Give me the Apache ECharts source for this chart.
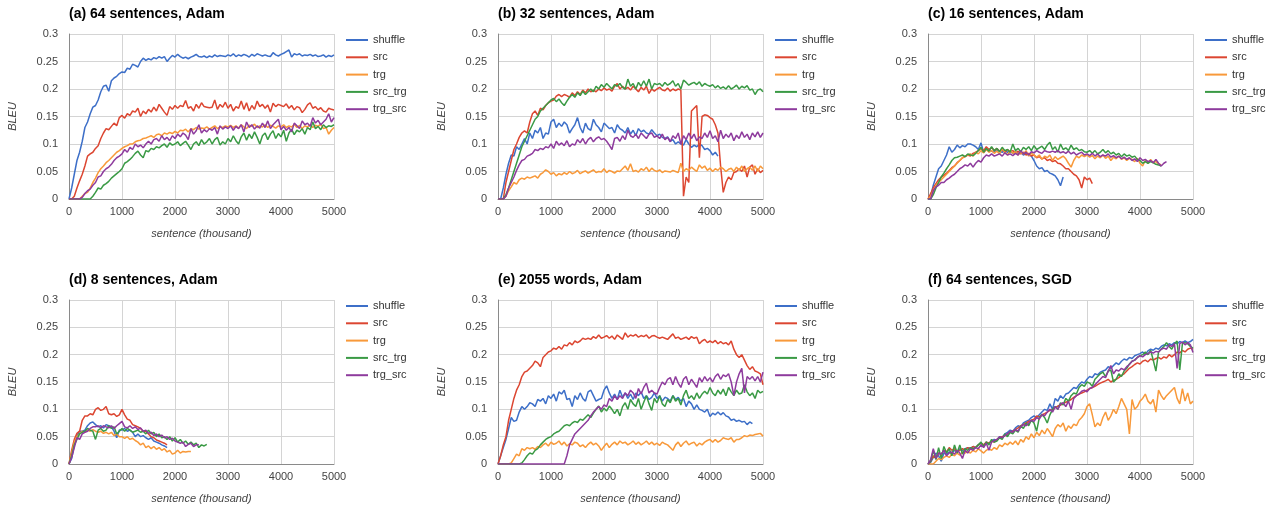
<!DOCTYPE html>
<html>
<head>
<meta charset="utf-8">
<script src="https://cdn.jsdelivr.net/npm/echarts@6/dist/echarts.min.js"></script>
<style>
html,body{margin:0;padding:0;background:#fff;}
#chart{width:1275px;height:509px;}
</style>
</head>
<body>
<div id="chart"></div>
<script>
// sample positions (thousand sentences)
const sentences = [0,50,100,150,200,250,300,350,400,450,500,550,600,650,700,750,800,850,900,950,1000,1050,1100,1150,1200,1250,1300,1350,1400,1450,1500,1550,1600,1650,1700,1750,1800,1850,1900,1950,2000,2050,2100,2150,2200,2250,2300,2350,2400,2450,2500,2550,2600,2650,2700,2750,2800,2850,2900,2950,3000,3050,3100,3150,3200,3250,3300,3350,3400,3450,3500,3550,3600,3650,3700,3750,3800,3850,3900,3950,4000,4050,4100,4150,4200,4250,4300,4350,4400,4450,4500,4550,4600,4650,4700,4750,4800,4850,4900,4950,5000];
const seriesNames = ['shuffle','src','trg','src_trg','trg_src'];
const panelTitles = ['(a) 64 sentences, Adam','(b) 32 sentences, Adam','(c) 16 sentences, Adam','(d) 8 sentences, Adam','(e) 2055 words, Adam','(f) 64 sentences, SGD'];
const xAxisName = 'sentence (thousand)';
const yAxisName = 'BLEU';

// (a) 64 sentences, Adam
const a_shuffle = [0,.02,.045,.07,.085,.105,.13,.14,.155,.167,
.17,.18,.195,.205,.207,.196,.215,.22,.223,.228,
.231,.23,.238,.236,.245,.243,.24,.25,.256,.252,
.255,.253,.257,.255,.259,.256,.259,.25,.256,.261,
.258,.263,.259,.256,.258,.255,.258,.26,.263,.259,
.258,.26,.257,.26,.258,.262,.259,.261,.26,.259,
.262,.26,.264,.259,.262,.26,.263,.261,.258,.263,
.26,.264,.262,.26,.262,.26,.259,.266,.262,.26,
.263,.265,.268,.271,.258,.264,.262,.264,.26,.262,
.261,.263,.26,.262,.259,.26,.262,.258,.261,.259,
.262];
const a_src = [0,0,.005,.02,.033,.045,.06,.078,.082,.085,
.092,.097,.11,.12,.128,.126,.132,.138,.133,.148,
.152,.147,.155,.152,.16,.158,.165,.15,.16,.155,
.163,.158,.167,.16,.172,.165,.158,.152,.168,.163,
.17,.165,.17,.168,.179,.165,.168,.16,.172,.165,
.175,.168,.167,.166,.167,.18,.163,.172,.167,.176,
.165,.172,.16,.168,.165,.178,.163,.175,.16,.17,
.163,.178,.168,.172,.165,.171,.158,.174,.168,.172,
.17,.168,.173,.165,.17,.162,.168,.166,.157,.163,
.171,.175,.165,.168,.162,.166,.16,.158,.165,.163,
.162];
const a_trg = [0,0,0,0,0,.005,.01,.012,.02,.03,
.038,.048,.055,.06,.066,.07,.075,.08,.085,.088,
.092,.095,.097,.1,.1,.104,.106,.107,.11,.111,
.113,.115,.112,.117,.118,.115,.12,.118,.121,.119,
.123,.12,.125,.124,.127,.122,.128,.126,.13,.127,
.129,.128,.131,.127,.13,.133,.128,.131,.13,.133,
.131,.134,.13,.133,.129,.135,.131,.128,.134,.132,
.136,.13,.133,.131,.135,.13,.134,.132,.129,.133,
.131,.135,.13,.133,.131,.136,.13,.134,.128,.133,
.131,.135,.13,.134,.132,.136,.128,.13,.118,.125,
.13];
const a_src_trg = [0,0,0,0,0,0,0,0,0,.005,
.012,.02,.018,.025,.028,.032,.038,.042,.046,.05,
.055,.065,.068,.072,.077,.083,.087,.08,.075,.088,
.086,.092,.09,.095,.093,.097,.1,.094,.102,.098,
.1,.104,.097,.101,.105,.098,.09,.1,.104,.097,
.108,.1,.104,.11,.1,.108,.112,.098,.104,.1,
.11,.104,.115,.106,.1,.113,.12,.107,.118,.11,
.122,.112,.1,.115,.12,.108,.118,.124,.11,.119,
.113,.125,.105,.12,.127,.117,.125,.122,.128,.118,
.13,.126,.14,.128,.132,.126,.135,.13,.133,.132,
.135];
const a_trg_src = [0,0,0,0,0,.003,.01,.015,.018,.025,
.03,.04,.042,.05,.055,.058,.063,.07,.075,.078,
.082,.09,.085,.094,.09,.1,.095,.098,.093,.1,
.105,.1,.108,.11,.105,.115,.108,.112,.106,.115,
.11,.118,.113,.12,.116,.108,.128,.118,.124,.135,
.12,.126,.122,.128,.125,.13,.118,.133,.127,.131,
.128,.133,.125,.132,.128,.135,.122,.14,.13,.135,
.127,.133,.129,.138,.13,.142,.128,.135,.14,.145,
.126,.132,.125,.13,.122,.138,.133,.128,.142,.135,
.138,.132,.148,.138,.143,.135,.14,.145,.155,.14,
.148];

// (b) 32 sentences, Adam
const b_shuffle = [0,0,.02,.045,.065,.08,.078,.095,.09,.1,
.11,.1,.12,.11,.125,.12,.13,.11,.12,.118,
.14,.145,.13,.138,.132,.14,.135,.12,.128,.135,
.148,.13,.12,.138,.128,.125,.145,.135,.13,.122,
.138,.133,.128,.13,.12,.135,.128,.125,.12,.13,
.118,.125,.115,.128,.122,.125,.12,.118,.126,.12,
.115,.118,.112,.11,.113,.105,.108,.1,.104,.1,
.098,.108,.1,.094,.098,.095,.1,.097,.09,.092,
.088,.08,.085,.078];
const b_src = [0,0,0,.03,.05,.07,.09,.1,.112,.12,
.124,.12,.14,.155,.16,.152,.165,.162,.17,.175,
.178,.18,.187,.19,.186,.19,.188,.185,.193,.188,
.195,.19,.198,.193,.2,.195,.198,.195,.2,.197,
.202,.198,.2,.196,.205,.21,.2,.205,.2,.203,
.198,.205,.2,.195,.203,.198,.205,.192,.2,.196,
.2,.203,.198,.197,.202,.196,.2,.197,.2,.198,
.005,.04,.03,.16,.165,.17,.075,.15,.153,.152,
.148,.145,.135,.12,.06,.012,.03,.04,.035,.048,
.05,.055,.05,.06,.04,.058,.062,.045,.055,.048,
.052];
const b_trg = [0,0,0,.005,.015,.022,.03,.027,.035,.038,
.036,.04,.038,.04,.042,.038,.045,.048,.053,.05,
.045,.048,.042,.046,.044,.048,.045,.05,.046,.048,
.052,.046,.049,.051,.047,.05,.053,.048,.05,.049,
.055,.048,.052,.05,.047,.051,.05,.055,.06,.052,
.064,.05,.052,.049,.055,.052,.058,.05,.056,.052,
.05,.053,.048,.051,.05,.049,.052,.05,.048,.065,
.05,.055,.052,.058,.054,.05,.062,.056,.06,.052,
.056,.05,.055,.052,.058,.055,.05,.054,.056,.05,
.058,.052,.06,.05,.055,.058,.052,.06,.05,.06,
.055];
const b_src_trg = [0,0,0,.008,.02,.035,.05,.065,.08,.095,
.105,.115,.125,.135,.145,.15,.16,.165,.17,.175,
.18,.183,.177,.182,.175,.17,.178,.185,.19,.185,
.193,.188,.196,.19,.195,.2,.195,.205,.2,.208,
.203,.21,.205,.2,.208,.205,.21,.203,.2,.218,
.205,.21,.2,.212,.205,.215,.205,.218,.2,.21,
.208,.21,.205,.212,.207,.21,.215,.205,.21,.2,
.216,.212,.207,.21,.212,.208,.213,.205,.21,.207,
.205,.208,.202,.206,.201,.204,.2,.206,.2,.203,
.207,.2,.205,.202,.206,.198,.2,.19,.198,.2,
.195];
const b_trg_src = [0,0,0,.005,.02,.03,.04,.052,.062,.07,
.072,.078,.08,.083,.09,.088,.092,.09,.095,.093,
.1,.092,.105,.098,.102,.097,.106,.095,.1,.098,
.108,.102,.11,.1,.108,.112,.104,.11,.113,.108,
.11,.105,.098,.09,.11,.112,.105,.115,.108,.125,
.115,.112,.118,.11,.12,.115,.11,.118,.12,.112,
.115,.11,.118,.108,.112,.104,.115,.11,.12,.1,
.115,.108,.12,.11,.118,.106,.113,.11,.12,.112,
.124,.11,.115,.104,.125,.11,.118,.112,.12,.106,
.116,.11,.122,.112,.118,.108,.12,.113,.122,.112,
.12];

// (c) 16 sentences, Adam
const c_shuffle = [0,.005,.025,.04,.055,.06,.07,.08,.095,.085,
.09,.098,.093,.097,.095,.1,.1,.098,.095,.09,
.102,.085,.09,.088,.087,.085,.09,.087,.085,.088,
.085,.087,.083,.086,.082,.085,.08,.083,.08,.078,
.07,.06,.055,.057,.05,.052,.047,.045,.042,.035,
.024,.04];
const c_src = [0,.01,.02,.028,.035,.04,.043,.047,.052,.057,
.06,.066,.07,.075,.077,.08,.078,.083,.085,.088,
.092,.088,.095,.09,.093,.088,.092,.087,.09,.085,
.09,.086,.088,.083,.087,.082,.085,.08,.083,.078,
.08,.075,.077,.073,.075,.07,.072,.068,.07,.065,
.064,.06,.055,.055,.05,.045,.042,.035,.02,.04,
.035,.038,.028];
const c_trg = [0,.005,.015,.025,.03,.035,.04,.045,.05,.055,
.06,.065,.07,.075,.078,.08,.082,.078,.085,.082,
.088,.084,.09,.085,.088,.083,.087,.082,.092,.085,
.08,.088,.083,.086,.08,.085,.082,.088,.078,.083,
.08,.076,.08,.072,.078,.075,.08,.07,.077,.072,
.075,.078,.073,.065,.058,.07,.078,.075,.08,.077,
.08,.076,.079,.073,.078,.075,.08,.074,.078,.07,
.076,.073,.078,.072,.075,.07,.074,.072,.068,.074,
.065,.06,.07,.065,.072,.066,.068,.064,.062];
const c_src_trg = [0,0,.008,.02,.03,.04,.047,.055,.062,.07,
.075,.076,.078,.08,.077,.082,.08,.079,.083,.088,
.094,.085,.092,.087,.095,.088,.092,.086,.094,.088,
.09,.085,.1,.088,.092,.086,.094,.09,.095,.088,
.097,.09,.093,.096,.09,.098,.103,.09,.095,.085,
.1,.09,.093,.088,.098,.09,.093,.088,.09,.086,
.085,.088,.083,.088,.082,.085,.09,.084,.088,.082,
.085,.08,.083,.077,.082,.078,.08,.076,.078,.072,
.07,.065,.068,.065,.068,.066,.063,.062,.06];
const c_trg_src = [0,0,.015,.022,.025,.03,.03,.035,.038,.042,
.045,.05,.055,.058,.062,.06,.065,.058,.065,.07,
.067,.075,.08,.078,.082,.078,.08,.082,.078,.084,
.08,.082,.079,.083,.08,.088,.082,.085,.08,.086,
.084,.088,.085,.083,.088,.086,.085,.087,.085,.088,
.084,.086,.083,.087,.082,.085,.08,.083,.085,.08,
.082,.079,.083,.078,.082,.077,.08,.078,.082,.076,
.079,.075,.078,.073,.076,.072,.075,.07,.073,.068,
.075,.07,.072,.068,.07,.066,.072,.065,.06,.065,.068];

// (d) 8 sentences, Adam
const d_shuffle = [0,.01,.035,.05,.06,.06,.062,.07,.075,.077,
.072,.068,.07,.066,.072,.07,.068,.06,.048,.062,
.062,.065,.06,.062,.058,.05,.055,.05,.052,.048,
.045,.048,.042,.04,.038,.035,.033,.03];
const d_src = [0,.025,.045,.056,.06,.08,.088,.088,.092,.09,
.1,.103,.098,.1,.105,.092,.09,.092,.087,.09,
.1,.09,.082,.08,.072,.07,.068,.065,.06,.06,
.055,.05,.048,.044,.042,.04,.038,.035];
const d_trg = [0,.02,.04,.05,.055,.06,.058,.062,.06,.063,
.06,.058,.06,.056,.058,.055,.058,.052,.055,.05,
.05,.047,.05,.045,.047,.043,.04,.035,.038,.03,
.033,.028,.032,.027,.03,.025,.028,.022,.025,.018,
.02,.025,.02,.023,.022,.023,.023];
const d_src_trg = [0,.015,.035,.045,.055,.058,.06,.065,.062,.06,
.045,.062,.065,.06,.062,.07,.065,.068,.055,.06,
.065,.06,.065,.062,.058,.06,.062,.058,.06,.055,
.062,.055,.058,.05,.055,.048,.05,.045,.05,.042,
.048,.04,.045,.038,.042,.036,.04,.035,.038,.03,
.035,.033,.036];
const d_trg_src = [0,.012,.03,.048,.045,.055,.058,.06,.065,.068,
.068,.07,.066,.07,.068,.066,.07,.065,.07,.074,
.078,.068,.066,.07,.065,.068,.063,.066,.06,.062,
.056,.058,.052,.055,.05,.053,.048,.05,.045,.047,
.042,.04,.038,.04,.032,.036,.038,.032,.035,.035];

// (e) 2055 words, Adam
const e_shuffle = [0,.015,.03,.045,.065,.085,.078,.08,.095,.105,
.1,.105,.112,.11,.105,.118,.115,.12,.11,.125,
.12,.128,.115,.132,.128,.135,.118,.12,.105,.125,
.118,.13,.12,.115,.132,.135,.125,.115,.118,.12,
.135,.143,.13,.12,.128,.118,.135,.122,.13,.12,
.128,.118,.13,.125,.132,.12,.125,.118,.122,.13,
.12,.125,.115,.122,.12,.115,.125,.118,.122,.115,
.12,.105,.115,.11,.1,.108,.1,.098,.095,.1,
.087,.093,.09,.095,.09,.094,.088,.086,.08,.082,
.078,.08,.077,.078,.072,.077,.074];
const e_src = [0,.015,.035,.05,.08,.1,.12,.135,.145,.16,
.168,.17,.175,.18,.188,.185,.178,.195,.2,.205,
.207,.212,.21,.215,.21,.218,.216,.222,.218,.225,
.222,.225,.23,.228,.23,.228,.233,.23,.236,.23,
.232,.235,.23,.234,.228,.236,.232,.228,.24,.232,
.236,.234,.237,.232,.235,.233,.236,.23,.234,.235,
.232,.23,.232,.23,.228,.233,.238,.23,.232,.228,
.23,.232,.228,.233,.23,.232,.22,.225,.228,.222,
.225,.222,.226,.22,.224,.22,.222,.218,.225,.21,
.2,.195,.2,.19,.18,.173,.178,.17,.168,.165,
.145];
const e_trg = [0,0,0,0,0,.002,.01,.018,.015,.028,
.025,.03,.028,.03,.027,.032,.03,.035,.038,.033,
.04,.036,.038,.042,.035,.04,.033,.037,.035,.04,
.038,.032,.035,.03,.036,.04,.035,.038,.033,.025,
.032,.038,.03,.036,.04,.035,.042,.038,.04,.035,
.038,.042,.036,.04,.035,.038,.042,.036,.04,.035,
.038,.034,.04,.037,.035,.03,.025,.035,.04,.032,
.038,.042,.035,.038,.04,.033,.038,.035,.04,.043,
.045,.04,.045,.04,.043,.048,.046,.045,.048,.04,
.045,.045,.048,.052,.05,.053,.052,.054,.055,.056,
.051];
const e_src_trg = [0,0,0,0,0,0,0,0,0,.002,
.008,.015,.02,.018,.025,.028,.035,.04,.045,.048,
.05,.055,.058,.06,.065,.07,.072,.07,.075,.078,
.076,.082,.08,.085,.09,.085,.093,.1,.106,.095,
.102,.097,.106,.1,.092,.1,.088,.105,.112,.1,
.118,.11,.105,.12,.1,.113,.125,.11,.098,.12,
.112,.125,.11,.105,.118,.112,.125,.115,.12,.108,
.125,.135,.12,.125,.118,.13,.12,.128,.133,.128,
.14,.13,.125,.135,.128,.137,.125,.14,.132,.125,
.135,.128,.13,.145,.132,.125,.13,.12,.135,.13,
.133];
const e_trg_src = [0,0,0,0,0,0,0,0,0,0,
0,0,0,0,0,0,0,0,0,0,
0,0,0,0,0,0,.015,.035,.045,.055,
.06,.065,.07,.075,.08,.088,.095,.1,.105,.1,
.108,.105,.12,.115,.125,.118,.125,.12,.13,.125,
.135,.13,.12,.138,.128,.14,.148,.13,.135,.13,
.128,.14,.15,.145,.155,.158,.145,.16,.148,.14,
.155,.16,.145,.155,.148,.14,.158,.15,.16,.152,
.158,.15,.16,.165,.155,.163,.16,.165,.15,.125,
.15,.165,.175,.13,.16,.155,.16,.152,.16,.15,
.168];

// (f) 64 sentences, SGD
const f_shuffle = [0,.003,.012,.02,.015,.005,.02,.018,.022,.02,
.025,.022,.028,.025,.028,.03,.028,.032,.03,.035,
.038,.033,.04,.038,.042,.045,.043,.05,.048,.055,
.058,.062,.06,.066,.07,.068,.075,.078,.08,.085,
.088,.085,.09,.095,.1,.098,.11,.1,.12,.115,
.125,.12,.128,.13,.135,.14,.138,.145,.15,.148,
.155,.16,.158,.165,.163,.168,.17,.172,.178,.175,
.18,.185,.182,.188,.192,.19,.195,.193,.198,.2,
.202,.205,.2,.207,.21,.208,.212,.21,.215,.218,
.216,.22,.218,.222,.22,.224,.222,.225,.222,.224,
.228];
const f_src = [0,.005,.015,.01,.02,.018,.025,.022,.03,.025,
.028,.022,.025,.028,.025,.03,.028,.032,.03,.035,
.038,.035,.04,.038,.042,.04,.045,.048,.05,.052,
.055,.058,.06,.063,.066,.07,.072,.075,.078,.08,
.082,.088,.086,.09,.092,.095,.098,.1,.103,.106,
.108,.11,.113,.115,.118,.122,.125,.128,.13,.132,
.135,.138,.14,.142,.145,.148,.15,.152,.155,.15,
.153,.155,.158,.162,.165,.17,.175,.178,.182,.185,
.183,.188,.19,.187,.192,.19,.193,.195,.192,.196,
.194,.2,.196,.2,.205,.203,.208,.205,.21,.212,
.21];
const f_trg = [0,0,0,.005,.01,.008,.012,.015,.012,.018,
.015,.02,.016,.022,.02,.023,.02,.025,.022,.028,
.024,.02,.025,.028,.025,.03,.027,.035,.032,.038,
.035,.04,.036,.042,.035,.045,.04,.05,.045,.055,
.048,.058,.052,.062,.055,.065,.058,.05,.065,.072,
.068,.075,.06,.07,.065,.073,.07,.08,.085,.092,
.105,.11,.09,.068,.075,.07,.085,.095,.08,.088,
.1,.092,.105,.12,.11,.1,.055,.118,.1,.105,
.115,.12,.128,.115,.11,.118,.095,.135,.125,.118,
.125,.13,.135,.14,.12,.11,.138,.115,.13,.11,
.115];
const f_src_trg = [0,.005,.025,.008,.03,.01,.032,.02,.028,.015,
.035,.02,.035,.018,.028,.025,.03,.028,.03,.035,
.04,.032,.04,.035,.045,.04,.042,.048,.045,.055,
.05,.058,.055,.062,.058,.07,.065,.075,.07,.08,
.075,.06,.085,.09,.085,.075,.09,.1,.105,.1,
.112,.108,.12,.115,.125,.13,.128,.14,.145,.142,
.15,.148,.142,.155,.16,.165,.168,.16,.17,.172,
.15,.155,.165,.16,.17,.175,.183,.188,.19,.195,
.198,.2,.205,.2,.208,.19,.17,.205,.21,.215,
.222,.215,.21,.22,.225,.172,.22,.222,.22,.215,
.212];
const f_trg_src = [0,.008,.028,.01,.02,.018,.025,.015,.02,.022,
.018,.025,.02,.01,.025,.02,.028,.025,.03,.028,
.035,.03,.038,.025,.04,.043,.045,.05,.048,.052,
.055,.06,.058,.063,.06,.068,.072,.07,.075,.08,
.078,.085,.082,.09,.088,.095,.1,.095,.105,.1,
.11,.112,.105,.115,.1,.12,.125,.128,.133,.135,
.132,.138,.14,.145,.15,.155,.16,.158,.17,.18,
.165,.172,.17,.175,.172,.178,.182,.188,.19,.195,
.198,.196,.2,.202,.205,.203,.206,.205,.21,.212,
.21,.218,.215,.22,.175,.22,.223,.218,.222,.218,
.204];

const panelSeries = [
  [a_shuffle,a_src,a_trg,a_src_trg,a_trg_src],
  [b_shuffle,b_src,b_trg,b_src_trg,b_trg_src],
  [c_shuffle,c_src,c_trg,c_src_trg,c_trg_src],
  [d_shuffle,d_src,d_trg,d_src_trg,d_trg_src],
  [e_shuffle,e_src,e_trg,e_src_trg,e_trg_src],
  [f_shuffle,f_src,f_trg,f_src_trg,f_trg_src]
];

// ---- layout / style ----
const colors = ['#3d6fc8','#dc4631','#f8993a','#3a9a45','#8e3b9d'];
const FONT = 'Arial, "Liberation Sans", sans-serif';
const colLeft = [69, 498, 928];
const rowTop = [34, 300];
const plotW = 265, plotH = 165;
const legendLeft = [346, 775, 1205];

const grids = [], xAxes = [], yAxes = [], titles = [], legends = [], series = [];
for (let p = 0; p < 6; p++) {
  const c = p % 3, r = Math.floor(p / 3);
  grids.push({left: colLeft[c], top: rowTop[r], width: plotW, height: plotH - r, containLabel: false});
  xAxes.push({
    type: 'value', gridIndex: p, min: 0, max: 5000, interval: 1000,
    name: xAxisName, nameLocation: 'middle', nameGap: 29,
    nameTextStyle: {fontFamily: FONT, fontSize: 11, fontStyle: 'italic', color: '#444'},
    axisLine: {show: true, lineStyle: {color: '#8a8a8a', width: 1}},
    axisTick: {show: false},
    axisLabel: {fontFamily: FONT, fontSize: 11, color: '#444', margin: 7, formatter: v => String(v)},
    splitLine: {show: true, lineStyle: {color: '#d4d4d4', width: 1}}
  });
  yAxes.push({
    type: 'value', gridIndex: p, min: 0, max: 0.3, interval: 0.05,
    name: yAxisName, nameLocation: 'middle', nameGap: 51, nameRotate: 90,
    nameTextStyle: {fontFamily: FONT, fontSize: 11, fontStyle: 'italic', color: '#444'},
    axisLine: {show: true, lineStyle: {color: '#8a8a8a', width: 1}},
    axisTick: {show: false},
    axisLabel: {fontFamily: FONT, fontSize: 11, color: '#444', margin: 11},
    splitLine: {show: true, lineStyle: {color: '#d4d4d4', width: 1}}
  });
  titles.push({
    text: panelTitles[p], left: colLeft[c] - 5, top: r === 0 ? 2 : 268,
    textStyle: {fontFamily: FONT, fontSize: 14, fontWeight: 'bold', color: '#000'}
  });
  legends.push({
    data: seriesNames, orient: 'vertical', left: legendLeft[c], top: r === 0 ? 34 : 300,
    padding: 0,
    icon: 'rect', itemWidth: 22, itemHeight: 2, itemGap: 5.3,
    textStyle: {fontFamily: FONT, fontSize: 11, color: '#333', lineHeight: 12},
    selectedMode: false
  });
  panelSeries[p].forEach((vals, s) => {
    series.push({
      type: 'line', name: seriesNames[s], xAxisIndex: p, yAxisIndex: p,
      data: vals.map((v, i) => [sentences[i], v]),
      symbol: 'none', showSymbol: false,
      lineStyle: {color: colors[s], width: 1.5},
      itemStyle: {color: colors[s]},
      emphasis: {disabled: true}
    });
  });
}

const chart = echarts.init(document.getElementById('chart'), null, {renderer: 'canvas'});
chart.setOption({
  backgroundColor: '#ffffff',
  animation: false,
  title: titles,
  legend: legends,
  grid: grids,
  xAxis: xAxes,
  yAxis: yAxes,
  series: series
});
</script>
</body>
</html>
